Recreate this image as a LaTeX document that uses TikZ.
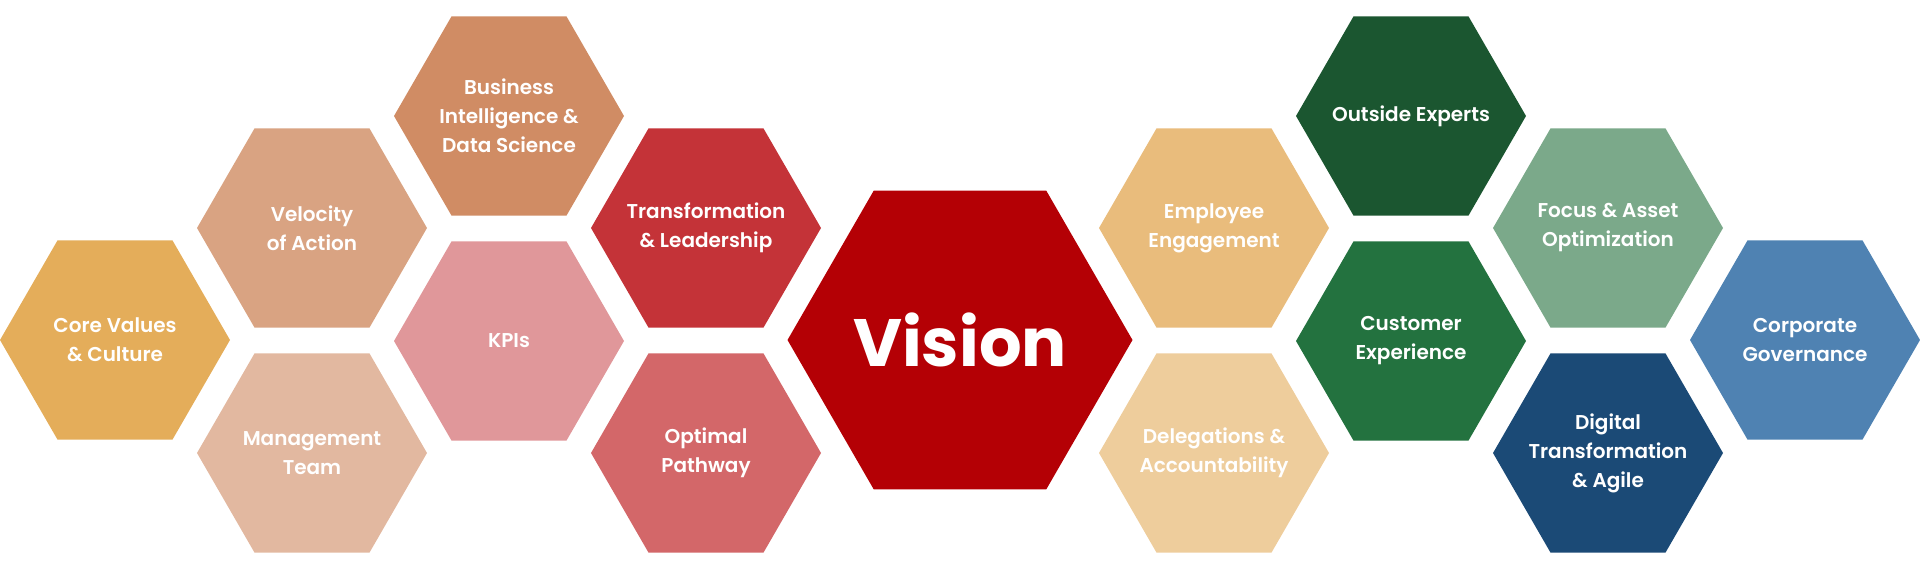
\documentclass[tikz,border=0pt]{standalone}
\usepackage{fontspec}
\setmainfont{Poppins}
\newfontfamily\medfont{Poppins SemiBold}
\newfontfamily\boldfont{Poppins Bold}
\usetikzlibrary{shapes.geometric}
\definecolor{cCore}{HTML}{E4AD5A}
\definecolor{cVel}{HTML}{D9A382}
\definecolor{cMan}{HTML}{E2B8A0}
\definecolor{cBI}{HTML}{D08C64}
\definecolor{cKPI}{HTML}{E0979A}
\definecolor{cTra}{HTML}{C43338}
\definecolor{cOpt}{HTML}{D36769}
\definecolor{cVis}{HTML}{B40005}
\definecolor{cEmp}{HTML}{E9BC7C}
\definecolor{cDel}{HTML}{EECD9C}
\definecolor{cOut}{HTML}{1B5630}
\definecolor{cCus}{HTML}{23723F}
\definecolor{cFoc}{HTML}{7BA98A}
\definecolor{cDig}{HTML}{1B4A76}
\definecolor{cCor}{HTML}{4F82B2}
\tikzset{
  hexa/.style={regular polygon, regular polygon sides=6, minimum size=230pt, inner sep=0pt, outer sep=0pt, draw=none},
  bighexa/.style={hexa, minimum size=345pt},
  hextext/.style={text=white, align=center, font=\medfont\fontsize{20}{29}\selectfont},
  vistext/.style={text=white, font=\boldfont\fontsize{67}{80}\selectfont}
}
\begin{document}
\begin{tikzpicture}[x=1pt,y=-1pt]
\useasboundingbox (0,0) rectangle (1920,570);
% left side
\node[hexa, fill=cCore] (core) at (115,340) {};
\node[hextext] (coreT) at (core) {Core Values\\\& Culture};
\node[hexa, fill=cVel] (vel) at (312,228) {};
\node[hextext] (velT) at (vel) {Velocity\\of Action};
\node[hexa, fill=cMan] (man) at (312,453) {};
\node[hextext] (manT) at (man) {Management\\Team};
\node[hexa, fill=cBI] (bi) at (509,116) {};
\node[hextext] (biT) at (bi) {Business\\Intelligence \&\\Data Science};
\node[hexa, fill=cKPI] (kpi) at (509,341) {};
\node[hextext] (kpiT) at (kpi) {KPIs};
\node[hexa, fill=cTra] (tra) at (706,228) {};
\node[hextext] (traT) at (tra) {Transformation\\\& Leadership};
\node[hexa, fill=cOpt] (opt) at (706,453) {};
\node[hextext] (optT) at (opt) {Optimal\\Pathway};
% centre
\node[bighexa, fill=cVis] (vis) at (960,340) {};
\node[vistext] (visT) at (vis) {Vision};
% right side
\node[hexa, fill=cEmp] (emp) at (1214,228) {};
\node[hextext] (empT) at (emp) {Employee\\Engagement};
\node[hexa, fill=cDel] (del) at (1214,453) {};
\node[hextext] (delT) at (del) {Delegations \&\\Accountability};
\node[hexa, fill=cOut] (out) at (1411,116) {};
\node[hextext] (outT) at (out) {Outside Experts};
\node[hexa, fill=cCus] (cus) at (1411,341) {};
\node[hextext] (cusT) at (cus) {Customer\\Experience};
\node[hexa, fill=cFoc] (foc) at (1608,228) {};
\node[hextext] (focT) at (foc) {Focus \& Asset\\Optimization};
\node[hexa, fill=cDig] (dig) at (1608,453) {};
\node[hextext] (digT) at (dig) {Digital\\Transformation\\\& Agile};
\node[hexa, fill=cCor] (cor) at (1805,340) {};
\node[hextext] (corT) at (cor) {Corporate\\Governance};
\end{tikzpicture}
\end{document}
